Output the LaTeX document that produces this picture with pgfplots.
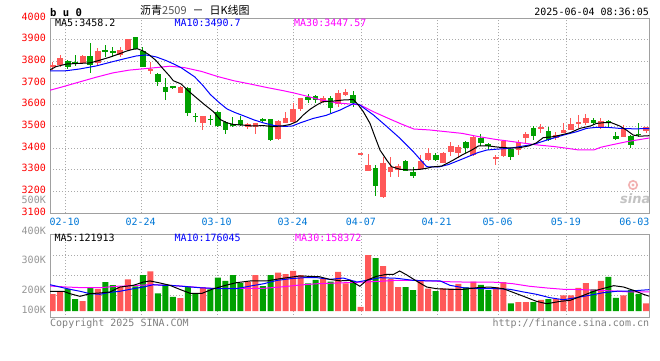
\documentclass[border=0pt]{standalone}
\usepackage{fontspec}
\usepackage{pgfplots}
\usepackage{pgfplotstable}
\pgfplotsset{compat=1.18}
\newfontfamily\mono{DejaVu Sans Mono}
\newfontfamily\cjk{Noto Sans CJK SC}
\newfontfamily\logofont{DejaVu Sans}
\definecolor{cred}{RGB}{255,88,88}
\definecolor{cgreen}{RGB}{0,160,0}
\definecolor{cblue}{RGB}{0,0,255}
\definecolor{cmag}{RGB}{255,0,255}
\definecolor{gridc}{RGB}{170,170,170}
\definecolor{borderc}{RGB}{160,160,160}
\definecolor{datec}{RGB}{0,120,215}
\definecolor{greyt}{RGB}{150,150,150}
\definecolor{greyc}{RGB}{128,128,128}
\definecolor{titlegrey}{RGB}{85,85,85}
\definecolor{logopink}{RGB}{242,178,178}
\definecolor{logogrey}{RGB}{195,195,195}

% candles: i open high low close
\pgfplotstableread{
i o h l c
0 3774 3797 3761 3783
1 3786 3831 3777 3817
4 3792 3831 3789 3826
6 3792 3863 3784 3847
9 3831 3866 3823 3854
10 3854 3903 3851 3903
13 3758 3800 3741 3766
17 3657 3688 3655 3681
20 3518 3551 3485 3549
26 3500 3515 3490 3511
27 3500 3518 3466 3515
30 3441 3530 3438 3528
31 3518 3566 3515 3541
32 3523 3611 3518 3581
33 3581 3634 3572 3631
36 3615 3640 3610 3631
38 3603 3669 3589 3654
39 3646 3672 3643 3661
41 3375 3377 3375 3377
42 3297 3374 3295 3323
44 3177 3361 3169 3331
45 3292 3358 3269 3315
46 3300 3328 3269 3318
49 3303 3369 3300 3341
50 3346 3400 3343 3377
52 3334 3385 3331 3380
53 3385 3431 3365 3411
54 3380 3415 3354 3408
56 3369 3457 3365 3454
59 3355 3369 3323 3358
60 3365 3438 3358 3434
62 3392 3438 3369 3431
63 3446 3477 3426 3466
65 3489 3512 3469 3500
67 3446 3477 3438 3461
68 3472 3515 3469 3484
69 3486 3538 3484 3513
70 3515 3554 3492 3523
71 3518 3558 3508 3540
73 3492 3538 3488 3526
76 3454 3508 3450 3488
79 3478 3500 3470 3498
}\upc
\pgfplotstableread{
i o h l c
2 3803 3807 3768 3777
3 3798 3831 3780 3792
5 3826 3884 3749 3786
7 3854 3877 3823 3847
8 3847 3866 3823 3841
11 3915 3915 3858 3858
12 3851 3869 3774 3777
14 3743 3749 3688 3708
15 3683 3723 3623 3660
16 3686 3688 3672 3683
18 3677 3681 3549 3564
19 3549 3564 3523 3546
21 3535 3554 3508 3532
22 3568 3572 3500 3503
23 3523 3526 3465 3485
24 3510 3543 3500 3508
25 3531 3549 3505 3508
28 3533 3540 3518 3530
29 3534 3537 3434 3438
34 3638 3649 3608 3623
35 3641 3644 3608 3623
37 3634 3640 3565 3588
40 3646 3664 3589 3608
43 3311 3323 3182 3228
47 3343 3345 3295 3297
48 3292 3315 3261 3274
51 3369 3377 3343 3346
55 3431 3434 3377 3400
57 3449 3466 3411 3426
58 3418 3426 3392 3415
61 3395 3400 3346 3361
64 3495 3503 3438 3457
66 3481 3500 3435 3438
72 3531 3538 3510 3515
74 3525 3531 3492 3521
75 3457 3477 3438 3441
77 3457 3461 3400 3415
78 3468 3518 3452 3463
}\downc
% volume (thousand lots)
\pgfplotstableread{
i v
0 140
1 158
4 81
6 182
9 200
10 262
13 328
17 107
20 192
26 242
27 297
30 316
31 305
32 332
33 297
36 266
38 322
39 229
41 35
42 462
44 371
45 264
46 198
49 248
50 184
52 187
53 184
54 223
56 242
59 198
60 239
62 73
63 73
65 92
67 99
68 128
69 130
70 190
71 231
73 248
76 130
79 64
}\upv
\pgfplotstableread{
i v
2 183
3 99
5 192
7 238
8 213
11 204
12 297
14 146
15 218
16 116
18 200
19 146
21 179
22 275
23 248
24 297
25 233
28 206
29 297
34 229
35 256
37 242
40 248
43 437
47 198
48 173
51 165
55 196
57 215
58 173
61 64
64 74
66 99
72 179
74 281
75 109
77 175
78 142
}\downv

\pgfplotsset{
  kpanel/.style={scale only axis, width=599.3pt, xmin=-0.36, xmax=79.44,
    axis line style={draw=borderc, line width=1pt},
    major tick length=0pt,
    xtick={1.678,11.80,21.92,32.04,41.12,51.21,59.33,68.41},
    xticklabel=\empty, yticklabel=\empty,
    xmajorgrids, ymajorgrids,
    grid style={draw=gridc, line width=1pt, dash pattern=on 1pt off 2pt}},
  wick/.style={draw=none, no markers, forget plot,
    error bars/.cd, y dir=both, y explicit, error mark=none,
    error mark options={draw=none, fill=none},
    error bar style={draw=#1, line width=1pt}},
  body/.style={draw=none, no markers, forget plot,
    error bars/.cd, y dir=both, y explicit, error mark=none,
    error mark options={draw=none, fill=none},
    error bar style={draw=#1, line width=5.6pt}},
}

\begin{document}
\begin{tikzpicture}
\fill[white] (0pt,0pt) rectangle (660pt,-360pt);
\path[use as bounding box] (0pt,0pt) rectangle (660pt,-360pt);

% ---------------- price panel
\begin{axis}[kpanel, at={(50pt,-213.3pt)}, anchor=south west, height=195pt,
  ymin=3100, ymax=4000, ytick={3200,3300,3400,3500,3600,3700,3800,3900}]
\addplot[wick=cred] table[x=i, y expr={(\thisrow{h}+\thisrow{l})/2}, y error expr={(\thisrow{h}-\thisrow{l})/2}] {\upc};
\addplot[wick=cgreen] table[x=i, y expr={(\thisrow{h}+\thisrow{l})/2}, y error expr={(\thisrow{h}-\thisrow{l})/2}] {\downc};
\addplot[body=cred] table[x=i, y expr={(\thisrow{o}+\thisrow{c})/2}, y error expr={max(abs(\thisrow{c}-\thisrow{o})/2,2.3)}] {\upc};
\addplot[body=cgreen] table[x=i, y expr={(\thisrow{o}+\thisrow{c})/2}, y error expr={max(abs(\thisrow{c}-\thisrow{o})/2,2.3)}] {\downc};
% MA30
\addplot[cmag, line width=1pt, mark=none] coordinates {
(-0.36,3668) (1.33,3684) (3.55,3706) (5.77,3728) (8.0,3748) (10.2,3761) (12.4,3768) (14.2,3774) (15.6,3779) (17.6,3772) (19.8,3755) (22.0,3731) (24.1,3712) (26.4,3696) (28.6,3680) (30.7,3666) (32.3,3654) (33.8,3641) (35.5,3625) (37.8,3610) (40.0,3603) (40.9,3601) (42.7,3569) (44.7,3538) (46.5,3511) (48.1,3489) (50.1,3485) (52.3,3477) (54.5,3469) (56.7,3454) (59.0,3441) (61.2,3431) (62.9,3423) (64.4,3416) (66.8,3408) (68.5,3400) (69.9,3393) (72.1,3393) (73.0,3405) (74.3,3415) (76.5,3431) (79.44,3447.6)};
% MA10
\addplot[cblue, line width=1pt, mark=none] coordinates {
(-0.36,3757) (1.77,3758) (3.55,3766) (5.77,3780) (8.0,3800) (9.76,3815) (11.1,3826) (12.4,3831) (13.76,3822) (15.1,3805) (16.06,3790) (17.1,3772) (18.9,3730) (20.0,3690) (21.0,3648) (22.2,3610) (23.2,3582) (24.2,3566) (25.5,3549) (26.8,3531) (28.1,3517) (29.5,3505) (30.9,3501) (31.9,3503) (33.0,3518) (34.7,3538) (36.4,3552) (38.3,3577) (40.0,3606) (40.8,3602) (42.7,3554) (44.5,3500) (46.25,3446) (48.0,3385) (48.9,3350) (49.8,3315) (51.4,3314) (52.7,3325) (54.5,3350) (56.6,3380) (57.8,3392) (59.1,3396) (60.9,3400) (62.2,3408) (64.0,3418) (65.8,3438) (68.0,3461) (69.8,3477) (71.1,3492) (72.4,3497) (73.8,3497) (75.5,3492) (77.3,3490) (79.44,3490.7)};
% MA5
\addplot[black, line width=1pt, mark=none] coordinates {
(-0.36,3762) (0.44,3777) (1.86,3789) (3.55,3792) (4.97,3794) (6.21,3806) (7.54,3820) (8.87,3836) (9.76,3848) (10.7,3857) (11.3,3859) (12.0,3850) (12.87,3831) (13.76,3805) (14.64,3769) (15.53,3735) (16.06,3712) (17.1,3697) (18.06,3665) (18.9,3640) (20.2,3602) (21.4,3569) (22.3,3533) (23.17,3518) (24.05,3510) (25.38,3507) (26.7,3503) (28.05,3505) (29.38,3500) (30.7,3504) (31.6,3510) (32.49,3523) (33.37,3554) (34.26,3580) (35.15,3600) (36.0,3615) (37.37,3618) (38.7,3623) (40.03,3625) (40.7,3600) (41.36,3569) (42.25,3515) (42.9,3454) (43.58,3392) (44.47,3346) (45.14,3315) (46.25,3303) (47.58,3300) (48.9,3303) (49.8,3308) (50.5,3314) (51.8,3318) (53.2,3343) (54.5,3369) (55.8,3392) (56.7,3411) (58.0,3411) (59.4,3405) (60.7,3402) (62.0,3402) (63.4,3411) (64.4,3425) (65.3,3449) (66.7,3454) (67.6,3461) (68.9,3472) (70.2,3492) (71.6,3503) (72.4,3515) (73.3,3518) (74.4,3518) (75.5,3503) (76.4,3484) (77.3,3461) (78.2,3456) (79.44,3458.2)};
\end{axis}

% ---------------- volume panel
\begin{axis}[kpanel, at={(50pt,-317.7pt)}, anchor=south west, height=83.4pt,
  ymin=-55.3, ymax=632.8, ytick={126.2,294.5,462}]
\addplot[ybar, bar width=6pt, bar shift=0pt, fill=cred, draw=none, forget plot] table[x=i, y=v] {\upv};
\addplot[ybar, bar width=6pt, bar shift=0pt, fill=cgreen, draw=none, forget plot] table[x=i, y=v] {\downv};
% MA30 vol
\addplot[cmag, line width=1pt, mark=none] coordinates {
(-0.36,206) (1.86,198) (4.08,192) (6.3,192) (8.52,204) (10.74,209) (12.96,217) (15.6,212) (18.3,200) (21.0,187) (24.5,187) (28.1,187) (30.3,198) (32.5,212) (35.2,225) (36.9,229) (41.4,239) (43.6,245) (45.8,253) (48.0,253) (50.3,248) (52.5,242) (54.7,239) (56.9,239) (59.1,237) (61.3,225) (63.5,204) (65.8,190) (68.0,179) (70.2,177) (72.4,171) (74.7,165) (76.9,157) (79.44,158.4)};
% MA10 vol
\addplot[cblue, line width=1pt, mark=none] coordinates {
(-0.36,217) (0.97,198) (2.3,179) (3.63,163) (4.97,143) (6.3,138) (7.63,154) (8.96,163) (10.74,184) (12.07,198) (13.4,217) (14.73,212) (15.6,212) (16.9,206) (19.6,192) (22.3,184) (24.5,184) (26.3,206) (28.1,225) (29.9,253) (31.7,267) (33.5,275) (35.2,275) (36.9,261) (38.7,272) (40.5,239) (41.8,253) (43.6,275) (45.8,270) (48.0,253) (50.3,248) (51.6,248) (52.9,212) (54.7,192) (56.9,184) (59.1,184) (60.9,179) (62.7,157) (64.4,138) (66.2,110) (68.0,93) (69.7,110) (71.5,130) (73.3,151) (75.1,163) (76.9,165) (79.44,176)};
% MA5 vol
\addplot[black, line width=1pt, mark=none] coordinates {
(-0.36,163) (1.41,163) (2.3,143) (3.63,121) (4.97,143) (6.3,149) (7.63,157) (8.96,198) (10.74,212) (12.07,239) (12.96,248) (14.3,231) (15.6,212) (16.9,179) (18.3,146) (19.9,146) (21.2,179) (23.0,212) (24.5,234) (26.3,248) (28.5,248) (30.3,267) (32.9,289) (35.5,283) (36.9,261) (38.3,249) (39.6,253) (40.9,204) (41.8,253) (43.1,286) (44.5,303) (45.4,303) (46.2,330) (47.1,299) (48.5,245) (49.8,198) (51.1,184) (52.9,179) (54.7,179) (56.5,192) (58.2,198) (60.0,184) (60.9,163) (62.7,121) (64.4,80) (65.8,60) (67.6,80) (68.9,88) (70.7,130) (72.4,171) (74.7,209) (76.0,198) (77.3,171) (78.65,138) (79.44,122)};
\end{axis}

% ---------------- texts
\tikzset{mt/.style={inner sep=0pt, font=\mono\fontsize{10}{12}\selectfont}}
\node[mt, anchor=base west, font=\mono\bfseries\fontsize{10.6}{12}\selectfont] at (50pt,-16pt) {b u 0};
\node[inner sep=0pt, anchor=base west, font=\cjk\fontsize{11}{13}\selectfont] at (140pt,-14.6pt) {沥青\textcolor{titlegrey}{2509}\hspace{6pt}－\hspace{6pt}日K线图};
\node[mt, anchor=base east] at (649pt,-15pt) {2025-06-04 08:36:05};

\foreach \v/\b in {4000/20.1,3900/41.8,3800/63.5,3700/85.1,3600/106.8,3500/128.5,3400/150.1,3300/171.8,3200/193.5,3100/215.1}
  \node[mt, anchor=base east, text=red] at (46pt,-\b pt) {\v};
\node[mt, anchor=base east, text=greyt] at (46pt,-203.3pt) {500K};
\foreach \v/\b in {400K/234,300K/263.3,200K/293.7,100K/313.7}
  \node[mt, anchor=base east, text=greyt] at (46pt,-\b pt) {\v};

\foreach \d/\xx in {02-10/64.7,02-24/140.7,03-10/216.7,03-24/292.7,04-07/360.9,04-21/436.7,05-06/497.7,05-19/565.9,06-03/634.3}
  \node[mt, anchor=base, text=datec] at (\xx pt,-225pt) {\d};

\node[mt, anchor=base west] at (55pt,-26.7pt) {MA5:3458.2};
\node[mt, anchor=base west, text=cblue] at (174.3pt,-26.7pt) {MA10:3490.7};
\node[mt, anchor=base west, text=cmag] at (294pt,-26.7pt) {MA30:3447.57};

\node[mt, anchor=base west] at (54.3pt,-241.7pt) {MA5:121913};
\node[mt, anchor=base west, text=cblue] at (174.3pt,-241.7pt) {MA10:176045};
\node[mt, anchor=base west, text=cmag] at (295pt,-241.7pt) {MA30:158372};

\node[mt, anchor=base west, text=greyc] at (50pt,-326.5pt) {Copyright 2025 SINA.COM};
\node[mt, anchor=base east, text=greyc] at (649.3pt,-326.5pt) {http://finance.sina.com.cn};

% sina watermark
\draw[draw=logopink, line width=1.6pt] (633pt,-185pt) circle (4.2pt);
\fill[logopink] (633pt,-185pt) circle (1.6pt);
\node[inner sep=0pt, anchor=base west, text=logogrey, font=\logofont\bfseries\itshape\fontsize{13}{14}\selectfont] at (620pt,-203pt) {sina};
\end{tikzpicture}
\end{document}
